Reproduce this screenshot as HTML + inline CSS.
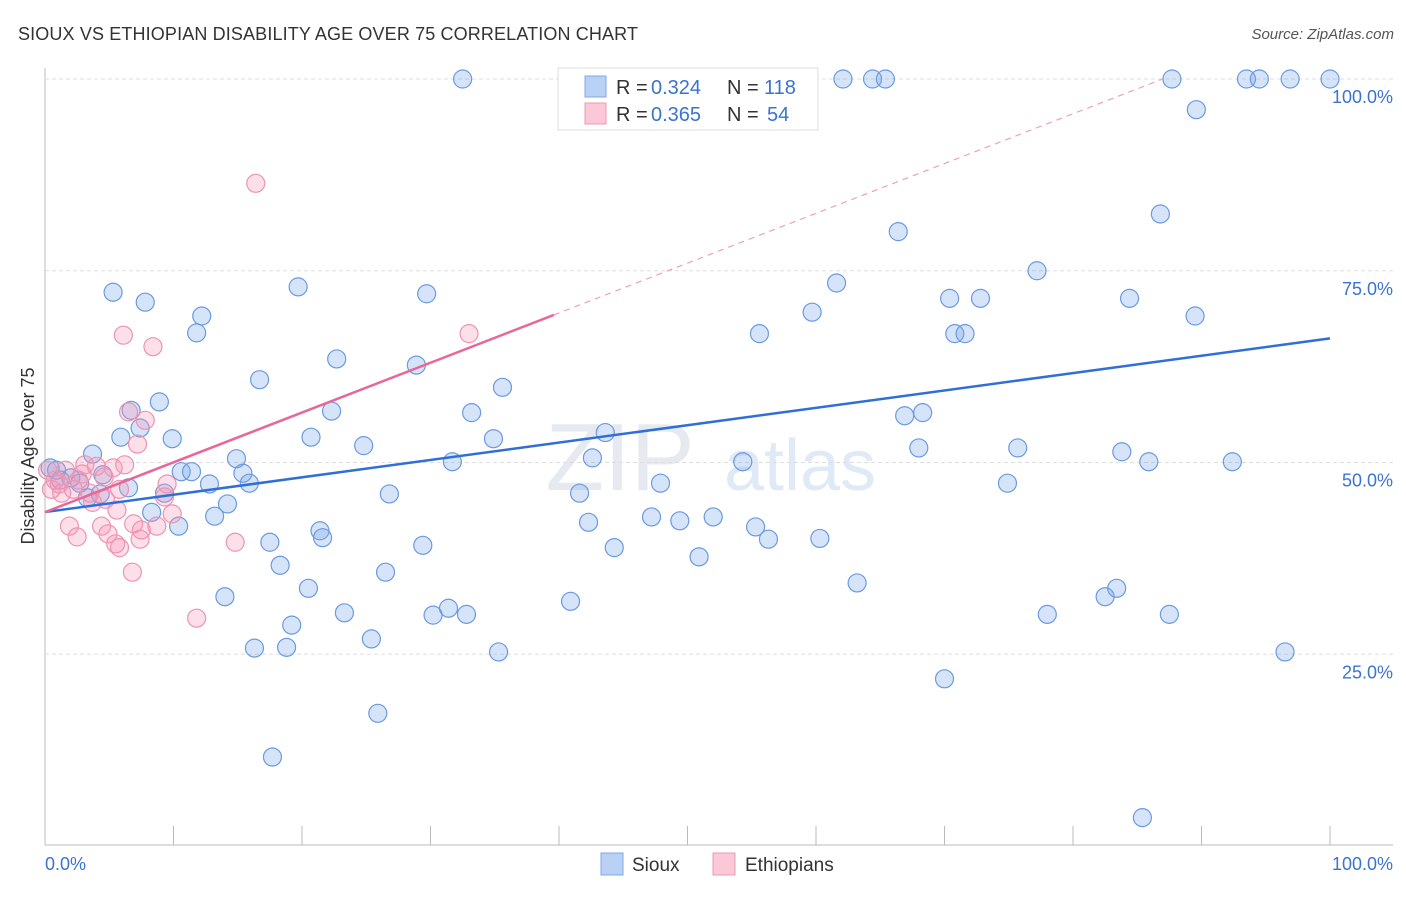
<!DOCTYPE html>
<html><head><meta charset="utf-8"><style>
body{margin:0;background:#fff;font-family:"Liberation Sans",sans-serif;}
svg text{font-family:"Liberation Sans",sans-serif;}
</style></head><body>
<svg id="chart" width="1406" height="892">
<text x="18" y="40" font-size="18" fill="#333" textLength="620">SIOUX VS ETHIOPIAN DISABILITY AGE OVER 75 CORRELATION CHART</text>
<text x="1394" y="39" font-size="15" fill="#555" text-anchor="end" font-style="italic">Source: ZipAtlas.com</text>
<text x="34" y="456" font-size="18" fill="#333" text-anchor="middle" transform="rotate(-90 34 456)">Disability Age Over 75</text>
<text x="620" y="490" font-size="96" fill="#e6eaf0" text-anchor="middle" font-family="Liberation Serif">ZIP</text>
<text x="800" y="490" font-size="72" fill="#e0eaf7" text-anchor="middle">atlas</text>
<g id="grid"></g><g id="pts"></g><g id="lines"></g>
<g>
<rect x="558" y="68" width="260" height="62" fill="#fff" stroke="#ddd"/>
<rect x="585" y="76" width="21" height="21" fill="#b9d1f5" stroke="#7fa8e6"/>
<rect x="585" y="103" width="21" height="21" fill="#fac8d6" stroke="#ef9ab5"/>
<text x="616" y="94" font-size="20" fill="#333">R = </text>
<text x="651" y="94" font-size="20" fill="#3b73d0">0.324</text>
<text x="727" y="94" font-size="20" fill="#333">N =</text>
<text x="764" y="94" font-size="20" fill="#3b73d0">118</text>
<text x="616" y="121" font-size="20" fill="#333">R = </text>
<text x="651" y="121" font-size="20" fill="#3b73d0">0.365</text>
<text x="727" y="121" font-size="20" fill="#333">N =</text>
<text x="767" y="121" font-size="20" fill="#3b73d0">54</text>
</g>
<g>
<rect x="601" y="853" width="22" height="22" fill="#b9d1f5" stroke="#7fa8e6"/>
<text x="632" y="871" font-size="19" fill="#333">Sioux</text>
<rect x="713" y="853" width="22" height="22" fill="#fac8d6" stroke="#ef9ab5"/>
<text x="745" y="871" font-size="19" fill="#333">Ethiopians</text>
</g>
</svg>
<script>
const siouxX=[32.5,45.5,62.1,64.4,65.4,87.7,93.5,94.5,96.9,100,89.6,86.8,66.4,77.2,61.6,70.4,72.8,84.4,59.7,89.5,55.6,70.8,71.6,5.3,7.8,12.2,11.8,19.7,29.7,22.7,28.9,16.7,35.6,8.9,6.7,22.3,33.2,7.4,5.9,9.9,20.7,34.9,43.6,24.8,66.9,68.3,68,75.7,83.8,42.6,31.7,54.3,85.9,92.4,3.7,14.9,10.6,11.4,15.4,15.9,12.8,47.9,74.9,6.5,9.3,26.8,41.6,8.3,13.2,14.2,10.4,42.3,47.2,49.4,52,55.3,56.3,60.3,21.4,21.6,29.4,44.3,17.5,50.9,18.3,26.5,63.2,20.5,83.4,82.5,14,40.9,31.4,23.3,30.2,32.8,78,87.5,19.2,25.4,16.3,18.8,35.3,96.5,70,25.9,17.7,85.4,0.4,1.2,2,2.7,4.3,3.3,4.5,0.9];
const siouxY=[100,100,100,100,100,100,100,100,100,100,96,82.4,80.1,75,73.4,71.4,71.4,71.4,69.6,69.1,66.8,66.8,66.8,72.2,70.9,69.1,66.9,72.9,72,63.5,62.7,60.8,59.8,57.9,56.8,56.7,56.5,54.5,53.3,53.1,53.3,53.1,53.9,52.2,56.1,56.5,51.9,51.9,51.4,50.6,50.1,50.1,50.1,50.1,51.1,50.5,48.8,48.8,48.6,47.3,47.2,47.3,47.3,46.7,46,45.9,46,43.5,43,44.6,41.7,42.2,42.9,42.4,42.9,41.6,40,40.1,41.1,40.2,39.2,38.9,39.6,37.7,36.6,35.7,34.3,33.6,33.6,32.5,32.5,31.9,31,30.4,30.1,30.2,30.2,30.2,28.8,27,25.8,25.9,25.3,25.3,21.8,17.3,11.6,3.7,49.3,47.7,48,47.3,45.9,45.4,48.4,49];
const ethX=[16.4,6.1,8.4,33,6.5,7.8,7.2,3.1,4,6.2,5.3,2.9,4.6,1.6,1.1,0.5,1.3,2.2,3.5,5.8,9.5,9.3,4.7,3.7,5.6,9.9,1.9,4.4,6.9,8.7,7.5,4.9,2.5,7.4,5.5,5.8,14.8,6.8,11.8,0.8,2.6,0.2];
const ethY=[86.4,66.6,65.1,66.8,56.6,55.5,52.4,49.7,49.5,49.7,49.3,48.5,48.1,49,47.2,46.5,46,46.5,46,46.5,47.2,45.5,45.2,44.8,43.8,43.3,41.7,41.7,42,41.7,41.2,40.7,40.3,40,39.4,38.9,39.6,35.7,29.7,47.7,47.7,49];
const yTicks=[25,50,75,100];
const xTicks=[0,10,20,30,40,50,60,70,80,90,100];
const NS='http://www.w3.org/2000/svg';
const X=v=>45+v*12.85, Y=v=>846-v*7.67;
function mk(tag,attrs,parent){const e=document.createElementNS(NS,tag);for(const k in attrs)e.setAttribute(k,attrs[k]);parent.appendChild(e);return e;}
const grid=document.getElementById('grid'),pts=document.getElementById('pts'),lines=document.getElementById('lines');
let ax=mk('line',{x1:45,y1:68,x2:45,y2:845,stroke:'#bbb'},grid);


let bx=mk('line',{x1:45,y1:845,x2:1393,y2:845,stroke:'#bbb'},grid);


yTicks.forEach(t=>{
 const g=mk('line',{x1:45,y1:Y(t),x2:1393,y2:Y(t),stroke:'#ddd','stroke-dasharray':'4,3'},grid);
 
 
 const tx=mk('text',{x:1393,y:Y(t)+24,'font-size':18,fill:'#3b73d0','text-anchor':'end'},grid);
 tx.textContent=t.toFixed(1)+'%';
 
 
});
xTicks.forEach(t=>{
 const l=mk('line',{x1:X(t),y1:826,x2:X(t),y2:845,stroke:'#bbb'},grid);
 
 
});
[[0,'0.0%','start',45],[100,'100.0%','end',1393]].forEach(([v,s,a,px])=>{
 const tx=mk('text',{x:px,y:870,'font-size':18,fill:'#3b73d0','text-anchor':a},grid);
 tx.textContent=s;
 
 
});
siouxX.forEach((x,i)=>{
 const c=mk('circle',{cx:X(x),cy:Y(siouxY[i]),r:9,fill:'rgba(120,165,235,0.3)',stroke:'#6a9ae0','stroke-width':1.2},pts);
 
 
});
ethX.forEach((x,i)=>{
 const c=mk('circle',{cx:X(x),cy:Y(ethY[i]),r:9,fill:'rgba(245,150,180,0.3)',stroke:'#ec94b2','stroke-width':1.2},pts);
 
 
});
function fit(xs,ys){const n=xs.length,mx=xs.reduce((a,b)=>a+b)/n,my=ys.reduce((a,b)=>a+b)/n;let sxy=0,sxx=0;xs.forEach((x,i)=>{sxy+=(x-mx)*(ys[i]-my);sxx+=(x-mx)**2;});const b=sxy/sxx;return[my-b*mx,b];}
const [ba,bb]=fit(siouxX,siouxY);
let bl=mk('line',{x1:X(0),y1:Y(ba),x2:X(100),y2:Y(ba+bb*100),stroke:'#2f6fd6','stroke-width':2.5},lines);


const [pa,pb]=fit(ethX,ethY);
const xmax=Math.max(...ethX)*1.2;
let pl=mk('line',{x1:X(0),y1:Y(pa),x2:X(xmax),y2:Y(pa+pb*xmax),stroke:'#e8679a','stroke-width':2.5},lines);


let xe=Math.min(100,(100-pa)/pb);
let pd=mk('line',{x1:X(xmax),y1:Y(pa+pb*xmax),x2:X(xe),y2:Y(pa+pb*xe),stroke:'#eaa0bc','stroke-width':1.2,'stroke-dasharray':'6,5'},lines);


</script>
</body></html>
